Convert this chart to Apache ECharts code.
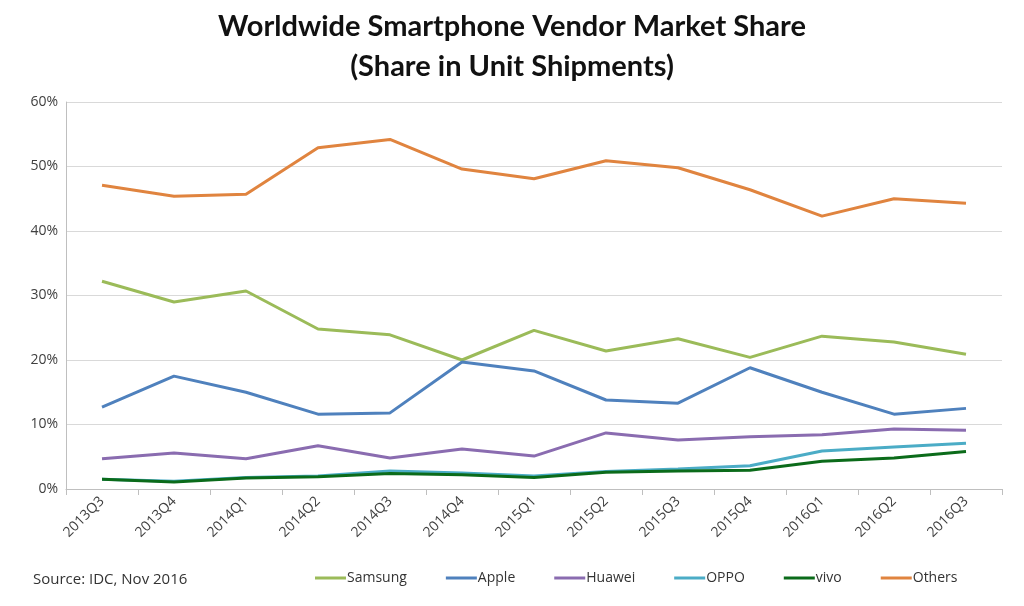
<!DOCTYPE html>
<html><head><meta charset="utf-8">
<script src="https://cdn.jsdelivr.net/npm/echarts@6/dist/echarts.min.js"></script>
<style>html,body{margin:0;padding:0;background:#fff}#c{width:1024px;height:606px}</style>
</head><body><div id="c"></div>
<script>
const categories = ['2013Q3','2013Q4','2014Q1','2014Q2','2014Q3','2014Q4','2015Q1','2015Q2','2015Q3','2015Q4','2016Q1','2016Q2','2016Q3'];
const yTicks = [0, 10, 20, 30, 40, 50, 60];
const samsung = [32.2, 29.0, 30.7, 24.8, 23.9, 20.0, 24.6, 21.4, 23.3, 20.4, 23.7, 22.8, 20.9];
const apple   = [12.7, 17.5, 15.0, 11.6, 11.8, 19.7, 18.3, 13.8, 13.3, 18.8, 15.0, 11.6, 12.5];
const huawei  = [4.7, 5.6, 4.7, 6.7, 4.8, 6.2, 5.1, 8.7, 7.6, 8.1, 8.4, 9.3, 9.1];
const oppo    = [1.5, 1.2, 1.8, 2.0, 2.8, 2.5, 2.0, 2.7, 3.1, 3.6, 5.9, 6.5, 7.1];
const vivo    = [1.5, 1.1, 1.7, 1.9, 2.4, 2.2, 1.8, 2.6, 2.8, 2.9, 4.3, 4.8, 5.8];
const others  = [47.1, 45.4, 45.7, 52.9, 54.2, 49.6, 48.1, 50.9, 49.8, 46.4, 42.3, 45.0, 44.3];

const names = ['Samsung','Apple','Huawei','OPPO','vivo','Others'];
const values = [samsung, apple, huawei, oppo, vivo, others];
const colors = ['#9BBB59','#4F81BD','#8A6CB0','#4BACC6','#0B6B1A','#E0843F'];

const chart = echarts.init(document.getElementById('c'));
chart.setOption({
  animation: false,
  backgroundColor: '#fff',
  title: {
    text: 'Worldwide Smartphone Vendor Market Share\n(Share in Unit Shipments)',
    left: 'center', top: 2,
    textStyle: { fontFamily: 'Lato', fontWeight: 'bold', fontSize: 29, color: '#111', lineHeight: 40 }
  },
  graphic: [{
    type: 'text', left: 33, top: 572,
    style: { text: 'Source: IDC, Nov 2016', font: '15px "Open Sans"', fill: '#333' }
  }],
  legend: {
    data: names, left: 315, top: 571, padding: 0,
    itemWidth: 31, itemHeight: 3, itemGap: 39,
    icon: 'rect',
    textStyle: { fontFamily: 'Open Sans', fontSize: 14, color: '#333', padding: [0,0,0,-4] }
  },
  grid: { left: 66, right: 22, top: 102, bottom: 117 },
  xAxis: {
    type: 'category', data: categories, boundaryGap: true,
    axisLine: { lineStyle: { color: '#bfbfbf', width: 1 } },
    axisTick: { show: true, length: 6, lineStyle: { color: '#bfbfbf' } },
    axisLabel: { rotate: 45, fontFamily: 'Open Sans', fontSize: 14, color: '#404040', margin: 10, interval: 0 }
  },
  yAxis: {
    type: 'value', min: 0, max: 60, interval: 10,
    axisLine: { show: true, lineStyle: { color: '#bfbfbf' } },
    axisTick: { show: false },
    splitLine: { lineStyle: { color: '#d9d9d9', width: 1 } },
    axisLabel: { formatter: v => yTicks.includes(v) ? v + '%' : '', fontFamily: 'Open Sans', fontSize: 14, color: '#404040', margin: 8 }
  },
  series: names.map((n, i) => ({
    name: n, type: 'line', data: values[i], symbol: 'none',
    lineStyle: { color: colors[i], width: 3 }, itemStyle: { color: colors[i] },
    z: i === 4 ? 5 : 3
  }))
});
</script></body></html>
